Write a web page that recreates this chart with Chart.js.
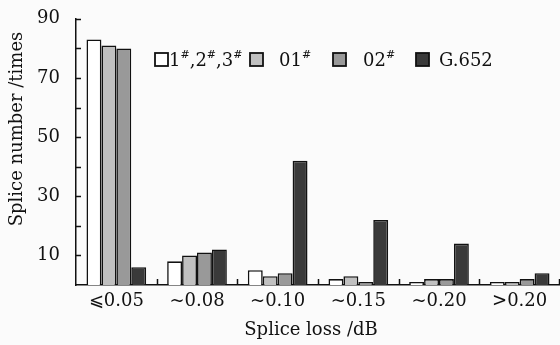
<!DOCTYPE html>
<html>
<head>
<meta charset="utf-8">
<script src="https://cdn.jsdelivr.net/npm/chart.js@4"></script>
<style>
  html, body { margin: 0; padding: 0; background: #fbfbfb; }
  #wrap { width: 560px; height: 345px; position: relative; }
</style>
</head>
<body>
<div id="wrap"><canvas id="spliceChart"></canvas></div>
<script>
const categories = ['\u2A7D0.05', '~0.08', '~0.10', '~0.15', '~0.20', '>0.20'];
const seriesNames = ['1#,2#,3#', '01#', '02#', 'G.652'];
const fiber123 = [83, 8, 5, 2, 1, 1];
const fiber01 = [81, 10, 3, 3, 2, 1];
const fiber02 = [80, 11, 4, 1, 2, 2];
const g652 = [6, 12, 42, 22, 14, 4];
const yTicks = [10, 30, 50, 70, 90];
const fills = ['#ffffff', '#c0c0c0', '#999999', '#3a3a3a'];

const FONT = '"DejaVu Serif", "Liberation Serif", serif';

// ticks point inward, so draw them ourselves from the scales
const innerTicks = {
  id: 'innerTicks',
  afterDatasetsDraw(chart) {
    const { ctx, chartArea, scales } = chart;
    const x = scales.x, y = scales.y;
    ctx.save();
    ctx.strokeStyle = '#111';
    ctx.lineWidth = 1.5;
    ctx.beginPath();
    for (let v = 10; v <= 90; v += 10) {
      const py = Math.round(y.getPixelForValue(v)) + 0.5;
      ctx.moveTo(chartArea.left, py);
      ctx.lineTo(chartArea.left + 5, py);
    }
    const n = categories.length;
    for (let i = 1; i <= n; i++) {
      const px = i < n
        ? (x.getPixelForValue(i - 1) + x.getPixelForValue(i)) / 2
        : chartArea.right - 1;
      ctx.moveTo(Math.round(px) + 0.5, chartArea.bottom);
      ctx.lineTo(Math.round(px) + 0.5, chartArea.bottom - 6);
    }
    ctx.stroke();
    ctx.restore();
  }
};

// legend with superscript marks and axis titles
const legendTitles = {
  id: 'legendTitles',
  afterDraw(chart) {
    const { ctx } = chart;
    ctx.save();
    ctx.fillStyle = '#111';
    ctx.textBaseline = 'alphabetic';

    const boxX = [155, 250, 333, 416];
    const textX = [169, 279, 363, 439];
    const midY = 59.5;
    seriesNames.forEach((name, i) => {
      ctx.fillStyle = fills[i];
      ctx.fillRect(boxX[i], midY - 6.5, 13, 13);
      ctx.strokeStyle = '#111';
      ctx.lineWidth = 1.8;
      ctx.strokeRect(boxX[i], midY - 6.5, 13, 13);
      ctx.fillStyle = '#111';
      let cx = textX[i];
      name.split(/(#)/).forEach(part => {
        if (!part) return;
        if (part === '#') {
          ctx.font = '11px ' + FONT;
          ctx.fillText('#', cx, midY - 2);
          cx += ctx.measureText('#').width;
        } else {
          ctx.font = '18px ' + FONT;
          ctx.fillText(part, cx, midY + 6.5);
          cx += ctx.measureText(part).width;
        }
      });
    });

    ctx.font = '18px ' + FONT;
    ctx.textAlign = 'center';
    ctx.textBaseline = 'middle';
    ctx.fillText('Splice loss /dB', 311, 330);
    ctx.translate(17, 129);
    ctx.rotate(-Math.PI / 2);
    ctx.fillText('Splice number /times', 0, 0);
    ctx.restore();
  }
};

const datasets = [fiber123, fiber01, fiber02, g652].map((data, i) => ({
  label: seriesNames[i],
  data: data,
  backgroundColor: fills[i],
  borderColor: '#111',
  borderWidth: 1.6,
  categoryPercentage: 0.74,
  barPercentage: 1.0,
}));

new Chart(document.getElementById('spliceChart'), {
  type: 'bar',
  data: { labels: categories, datasets: datasets },
  options: {
    responsive: true,
    maintainAspectRatio: false,
    animation: false,
    layout: { padding: { top: 15, right: 0, left: 0, bottom: 0 } },
    plugins: { legend: { display: false }, tooltip: { enabled: false } },
    scales: {
      x: {
        grid: { display: false },
        border: { display: true, color: '#111', width: 1.5 },
        ticks: { color: '#111', padding: -2, font: { family: FONT, size: 18 } },
        afterFit(scale) { scale.height = 60; },
      },
      y: {
        min: 0,
        max: 90,
        grid: { display: false },
        border: { display: true, color: '#111', width: 1.5 },
        ticks: {
          stepSize: 10,
          color: '#111',
          padding: 8,
          font: { family: FONT, size: 18 },
          callback: v => (yTicks.includes(v) ? v : ''),
        },
        afterFit(scale) { scale.width = 76; },
      },
    },
  },
  plugins: [innerTicks, legendTitles],
});
</script>
</body>
</html>
